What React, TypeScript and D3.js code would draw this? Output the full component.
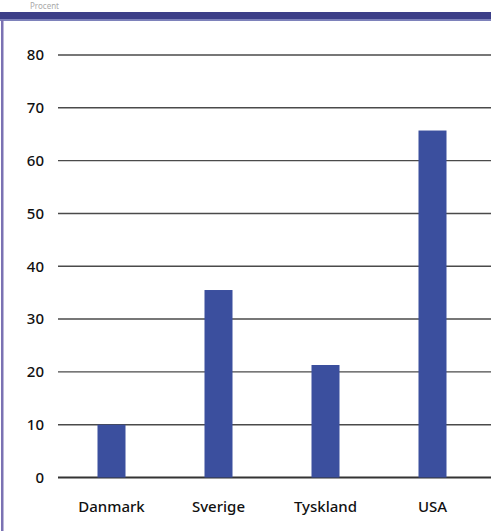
import React from "react";
import * as d3 from "d3";

const categories = ["Danmark", "Sverige", "Tyskland", "USA"];
const values = [10, 35.5, 21.3, 65.7];
const yTicks = [0, 10, 20, 30, 40, 50, 60, 70, 80];

const W = 491;
const H = 531;
const plot = { left: 58, right: 486, top: 55, bottom: 477.5 };

export default function App() {
  const x = d3
    .scaleBand<string>()
    .domain(categories)
    .range([plot.left, plot.right])
    .padding(0);
  const y = d3.scaleLinear().domain([0, 80]).range([plot.bottom, plot.top]);
  const barW = 28;
  const font = "'Noto Sans', 'Open Sans', 'DejaVu Sans', sans-serif";

  return (
    <svg
      width={W}
      height={H}
      style={{ position: "absolute", left: 0, top: 0, background: "#fff" }}
    >
      {/* caption above the header rule */}
      <text x={30} y={9} fontFamily={font} fontSize={8} fill="#aaa">
        Procent
      </text>
      {/* header rule */}
      <rect x={0} y={12} width={W} height={8} fill="#3c3f88" />
      <rect x={0} y={19} width={W} height={2} fill="#7e82bb" />
      {/* left frame */}
      <rect x={1} y={20} width={2.5} height={H - 20} fill="#7b72b3" />

      {/* gridlines and y labels */}
      {yTicks.map((t) => (
        <g key={t}>
          <line
            x1={plot.left}
            x2={W}
            y1={y(t)}
            y2={y(t)}
            stroke={t === 0 ? "#333" : "#4a4a4a"}
            strokeWidth={t === 0 ? 2 : 1.4}
          />
          <text
            x={44}
            y={y(t)}
            dy="0.36em"
            textAnchor="end"
            fontFamily={font}
            fontSize={15}
            fontWeight={500}
            fill="#111"
          >
            {t}
          </text>
        </g>
      ))}

      {/* bars */}
      {categories.map((c, i) => {
        const cx = (x(c) as number) + x.bandwidth() / 2;
        return (
          <rect
            key={c}
            x={cx - barW / 2}
            y={y(values[i])}
            width={barW}
            height={y(0) - y(values[i])}
            fill="#3b4f9e"
          />
        );
      })}

      {/* category labels */}
      {categories.map((c) => (
        <text
          key={c}
          x={(x(c) as number) + x.bandwidth() / 2}
          y={512}
          textAnchor="middle"
          fontFamily={font}
          fontSize={15}
          fontWeight={500}
          fill="#111"
        >
          {c}
        </text>
      ))}
    </svg>
  );
}
